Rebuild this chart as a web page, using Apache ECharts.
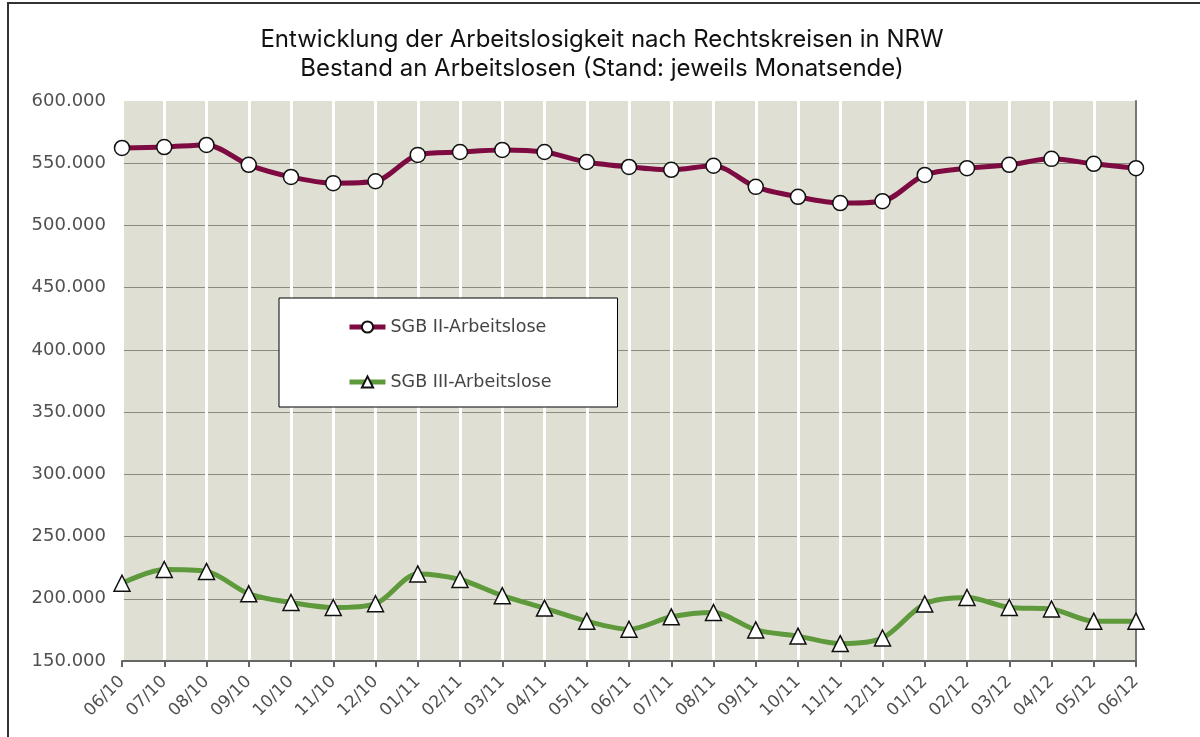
<!DOCTYPE html>
<html>
<head>
<meta charset="UTF-8">
<title>Arbeitslosigkeit NRW</title>
<script src="https://cdn.jsdelivr.net/npm/echarts@6/dist/echarts.min.js"></script>
<style>
  body { margin: 0; background: #fff; }
  #main { width: 1200px; height: 737px; }
</style>
</head>
<body>
<div id="main"></div>
<script>
// Monate (06/10 bis 06/12)
var months = ['06/10','07/10','08/10','09/10','10/10','11/10','12/10','01/11','02/11','03/11','04/11','05/11',
  '06/11','07/11','08/11','09/11','10/11','11/11','12/11','01/12','02/12','03/12','04/12','05/12','06/12'];

var sgb2 = [562300, 563000, 564700, 548700, 539000, 534000, 535500, 556700, 559000, 560700, 559000, 551000,
  547000, 544700, 548000, 531000, 523000, 518000, 519500, 540600, 546000, 548700, 553500, 549500, 546000];

var sgb3 = [212500, 223500, 222000, 204000, 197000, 193000, 196000, 220000, 215500, 202500, 192500, 182000,
  175500, 185500, 189000, 175000, 170000, 164000, 168500, 195800, 201000, 193000, 191800, 182000, 182000];

var chart = echarts.init(document.getElementById('main'));

function fmt(v) {
  return (v / 1000) + '.000';
}

var option = {
  animation: false,
  textStyle: { fontFamily: 'DejaVu Sans' },
  title: {
    text: 'Entwicklung der Arbeitslosigkeit nach Rechtskreisen in NRW\nBestand an Arbeitslosen (Stand: jeweils Monatsende)',
    left: 597,
    textAlign: 'center',
    top: 20,
    textStyle: { fontSize: 24, fontWeight: 'normal', color: '#111', lineHeight: 29, fontFamily: 'Inter' }
  },
  graphic: [{
    type: 'rect',
    shape: { x: 8, y: 3, width: 1300, height: 800 },
    style: { fill: 'none', stroke: '#333', lineWidth: 2 },
    silent: true
  }],
  legend: {
    orient: 'vertical',
    left: 279,
    top: 298,
    padding: [19, 66, 15, 68],
    itemGap: 35,
    itemWidth: 36,
    itemHeight: 14,
    backgroundColor: '#fff',
    borderColor: '#000',
    borderWidth: 1,
    lineStyle: { width: 5 },
    textStyle: { fontSize: 17.5, lineHeight: 20, color: '#444' },
    data: ['SGB II-Arbeitslose', 'SGB III-Arbeitslose']
  },
  grid: {
    left: 122, right: 64, top: 101, bottom: 76,
    show: true,
    backgroundColor: '#dfe0d3',
    borderWidth: 0
  },
  xAxis: {
    type: 'category',
    boundaryGap: false,
    data: months,
    axisLine: { lineStyle: { color: '#666', width: 2 } },
    axisTick: { show: true, length: 6, lineStyle: { color: '#666', width: 2 } },
    axisLabel: { rotate: 45, fontSize: 17, color: '#505050', margin: 18 },
    splitLine: { show: true, lineStyle: { color: '#fff', width: 3 } }
  },
  yAxis: [{
    type: 'value',
    min: 150000,
    max: 600000,
    interval: 50000,
    axisLine: { show: false },
    axisTick: { show: false },
    axisLabel: { formatter: fmt, fontSize: 18, color: '#505050', margin: 16 },
    splitLine: { show: true, showMaxLine: false, lineStyle: { color: '#8a8a7e', width: 1 } }
  }, {
    type: 'value',
    min: 150000,
    max: 600000,
    interval: 50000,
    position: 'right',
    axisLine: { show: true, lineStyle: { color: '#777', width: 2 } },
    axisTick: { show: false },
    axisLabel: { show: false },
    splitLine: { show: false }
  }],
  series: [{
    name: 'SGB II-Arbeitslose',
    type: 'line',
    smooth: 0.3,
    data: sgb2,
    symbol: 'circle',
    symbolSize: 15,
    lineStyle: { color: '#7d0a40', width: 5 },
    itemStyle: { color: '#fff', borderColor: '#111', borderWidth: 1.5 },
    z: 3
  }, {
    name: 'SGB III-Arbeitslose',
    type: 'line',
    smooth: 0.3,
    data: sgb3,
    symbol: 'triangle',
    symbolSize: 16,
    lineStyle: { color: '#5e9a3c', width: 5 },
    itemStyle: { color: '#fff', borderColor: '#111', borderWidth: 1.5 },
    z: 3
  }]
};

chart.setOption(option);
</script>
</body>
</html>
